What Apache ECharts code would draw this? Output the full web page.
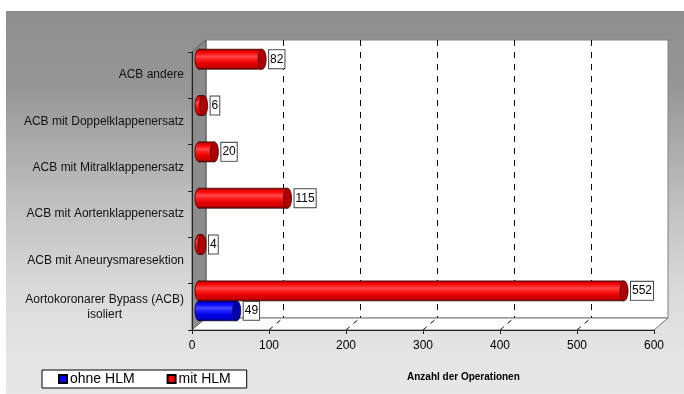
<!DOCTYPE html>
<html>
<head>
<meta charset="utf-8">
<script src="https://cdn.jsdelivr.net/npm/echarts@6/dist/echarts.min.js"></script>
<style>
  html, body { margin: 0; padding: 0; background: #fff; }
  #bg {
    position: absolute; left: 6px; top: 11px; width: 678px; height: 383px;
    background: linear-gradient(to bottom, #8e8e8e 0%, #969696 20%, #bdbdbd 48%, #d9d9d9 72%, #e5e5e5 90%, #e7e7e7 100%);
  }
  #chart { position: absolute; left: 0; top: 0; width: 684px; height: 394px; }
</style>
</head>
<body>
<div id="bg"></div>
<div id="chart"></div>
<script>
// Operation types, bottom to top
const categories = [
  'Aortokoronarer Bypass (ACB)\nisoliert',
  'ACB mit Aneurysmaresektion',
  'ACB mit Aortenklappenersatz',
  'ACB mit Mitralklappenersatz',
  'ACB mit Doppelklappenersatz',
  'ACB andere'
];
const seriesNames = ['ohne HLM', 'mit HLM'];
const ohneHLM = [49, null, null, null, null, null];
const mitHLM = [552, 4, 115, 20, 6, 82];
const xTicks = [0, 100, 200, 300, 400, 500, 600];

// Plot box (front plane) and the 3D depth offset
const W = 684, H = 394;
const front = { x: 192, y: 52, w: 462, h: 278 };
const depth = { dx: 14, dy: -12 };
const xMin = xTicks[0], xMax = xTicks[xTicks.length - 1], xStep = xTicks[1] - xTicks[0];

function gridAt(ox, oy) {
  return {
    left: front.x + ox,
    top: front.y + oy,
    right: W - (front.x + front.w + ox),
    bottom: H - (front.y + front.h + oy)
  };
}

const palettes = {
  red: {
    body: ['#7a0000', '#d80000', '#ff1010', '#ff4a4a', '#ff2020', '#e40000', '#c80000', '#6e0000'],
    cap: '#b00000', edge: '#3a0000'
  },
  blue: {
    body: ['#00007a', '#0000d8', '#1010ff', '#4a4aff', '#2020ff', '#0000e4', '#0000c8', '#00006e'],
    cap: '#0000a8', edge: '#00003a'
  }
};

function gradient(cols) {
  const pos = [0, 0.08, 0.22, 0.36, 0.5, 0.7, 0.9, 1];
  return {
    type: 'linear', x: 0, y: 0, x2: 0, y2: 1,
    colorStops: cols.map((c, i) => ({ offset: pos[i], color: c }))
  };
}

// Cylinder-shaped horizontal bar; side = -1 draws in the upper half of the band, +1 in the lower half
function cylinder(side, pal) {
  return function (params, api) {
    const v = api.value(0);
    const c = api.value(1);
    if (v == null || isNaN(v)) return null;
    const p0 = api.coord([0, c]);
    const p1 = api.coord([v, c]);
    const band = api.size([0, 1])[1];
    const h = band * 0.43;
    const yTop = side < 0 ? p0[1] - h : p0[1];
    const yMid = yTop + h / 2;
    const rx = h * 0.2;
    const fill = gradient(pal.body);
    return {
      type: 'group',
      children: [
        { type: 'ellipse', shape: { cx: p0[0], cy: yMid, rx: rx, ry: h / 2 },
          style: { fill: fill, stroke: pal.edge, lineWidth: 0.8 } },
        { type: 'rect', shape: { x: p0[0], y: yTop, width: p1[0] - p0[0], height: h },
          style: { fill: fill } },
        { type: 'line', shape: { x1: p0[0], y1: yTop, x2: p1[0], y2: yTop },
          style: { stroke: pal.edge, lineWidth: 0.8 } },
        { type: 'line', shape: { x1: p0[0], y1: yTop + h, x2: p1[0], y2: yTop + h },
          style: { stroke: pal.edge, lineWidth: 0.8 } },
        { type: 'ellipse', shape: { cx: p1[0], cy: yMid, rx: rx, ry: h / 2 },
          style: { fill: pal.cap, stroke: pal.edge, lineWidth: 0.8 } },
        { type: 'text', x: p1[0] + rx + 3, y: yMid,
          style: {
            text: String(v), fill: '#000', font: '12px "Liberation Sans", Arial, sans-serif',
            align: 'left', verticalAlign: 'middle',
            backgroundColor: '#fff', borderColor: '#444', borderWidth: 1, padding: [3, 1, 3, 1]
          } }
      ]
    };
  };
}

const xScale = v => front.x + (v - xMin) / (xMax - xMin) * front.w;
const yFront = front.y + front.h;

// Side wall, floor and the floor grid lines of the 3D box
const walls = [
  { type: 'polygon', z: 1,
    shape: { points: [[front.x, front.y], [front.x + depth.dx, front.y + depth.dy],
                      [front.x + depth.dx, yFront + depth.dy], [front.x, yFront]] },
    style: { fill: '#8c8c8c', stroke: '#555', lineWidth: 1 } },
  { type: 'polygon', z: 1,
    shape: { points: [[front.x, yFront], [front.x + depth.dx, yFront + depth.dy],
                      [front.x + front.w + depth.dx, yFront + depth.dy], [front.x + front.w, yFront]] },
    style: { fill: '#fff', stroke: '#777', lineWidth: 1 } }
];
xTicks.slice(1, -1).forEach(t => {
  walls.push({ type: 'line', z: 1,
    shape: { x1: xScale(t), y1: yFront, x2: xScale(t) + depth.dx, y2: yFront + depth.dy },
    style: { stroke: '#000', lineWidth: 1, lineDash: [5, 5] } });
});

const font = '"Liberation Sans", Arial, sans-serif';
const chart = echarts.init(document.getElementById('chart'));
chart.setOption({
  animation: false,
  textStyle: { fontFamily: font },
  title: {
    text: 'Anzahl der Operationen', left: 402, top: 367,
    textStyle: { fontSize: 10, fontWeight: 'bold', color: '#000', fontFamily: font }
  },
  legend: {
    left: 42, top: 370,
    data: seriesNames,
    icon: 'rect', itemWidth: 8, itemHeight: 8, itemGap: 32,
    padding: [2, 16, 2, 16],
    backgroundColor: '#fff', borderColor: '#000', borderWidth: 1, borderRadius: 0,
    textStyle: { fontSize: 14, color: '#000', fontFamily: font, padding: [0, 0, 0, -2] }
  },
  grid: [
    Object.assign({ show: false }, gridAt(0, 0)),
    Object.assign({ show: true, backgroundColor: '#fff', borderColor: '#808080', borderWidth: 1 },
                  gridAt(depth.dx, depth.dy)),
    Object.assign({ show: false }, gridAt(depth.dx / 2, depth.dy / 2))
  ],
  xAxis: [
    { gridIndex: 0, type: 'value', min: xMin, max: xMax, interval: xStep, z: 3,
      axisLine: { show: true, lineStyle: { color: '#222', width: 1 } },
      axisTick: { show: true, length: 4, lineStyle: { color: '#222' } },
      axisLabel: { fontSize: 12, color: '#000', margin: 10 },
      splitLine: { show: false } },
    { gridIndex: 1, type: 'value', min: xMin, max: xMax, interval: xStep,
      axisLine: { show: false }, axisTick: { show: false }, axisLabel: { show: false },
      splitLine: { show: true, showMinLine: false, showMaxLine: false,
                   lineStyle: { color: '#000', type: [6, 6], width: 1 } } },
    { gridIndex: 2, type: 'value', min: xMin, max: xMax, show: false }
  ],
  yAxis: [
    { gridIndex: 0, type: 'category', data: categories, z: 3,
      axisLine: { show: true, lineStyle: { color: '#222', width: 1 } },
      axisTick: { show: true, length: 4, lineStyle: { color: '#222' } },
      axisLabel: {
        fontSize: 12, color: '#111', margin: 8,
        formatter: v => v.indexOf('\n') >= 0
          ? v.split('\n').map(s => '{c|' + s + '}').join('\n') : v,
        rich: { c: { align: 'center', fontSize: 12, color: '#111', lineHeight: 15 } }
      } },
    { gridIndex: 1, type: 'category', data: categories, show: false },
    { gridIndex: 2, type: 'category', data: categories, show: false }
  ],
  graphic: { elements: walls },
  series: [
    { name: seriesNames[0], type: 'custom', xAxisIndex: 2, yAxisIndex: 2, z: 5,
      itemStyle: { color: '#0000ff', borderColor: '#000', borderWidth: 0.5 },
      encode: { x: 0, y: 1 },
      renderItem: cylinder(1, palettes.blue),
      data: ohneHLM.map((v, i) => [v, i]) },
    { name: seriesNames[1], type: 'custom', xAxisIndex: 2, yAxisIndex: 2, z: 5,
      itemStyle: { color: '#ff0000', borderColor: '#000', borderWidth: 0.5 },
      encode: { x: 0, y: 1 },
      renderItem: cylinder(-1, palettes.red),
      data: mitHLM.map((v, i) => [v, i]) }
  ]
});
</script>
</body>
</html>
